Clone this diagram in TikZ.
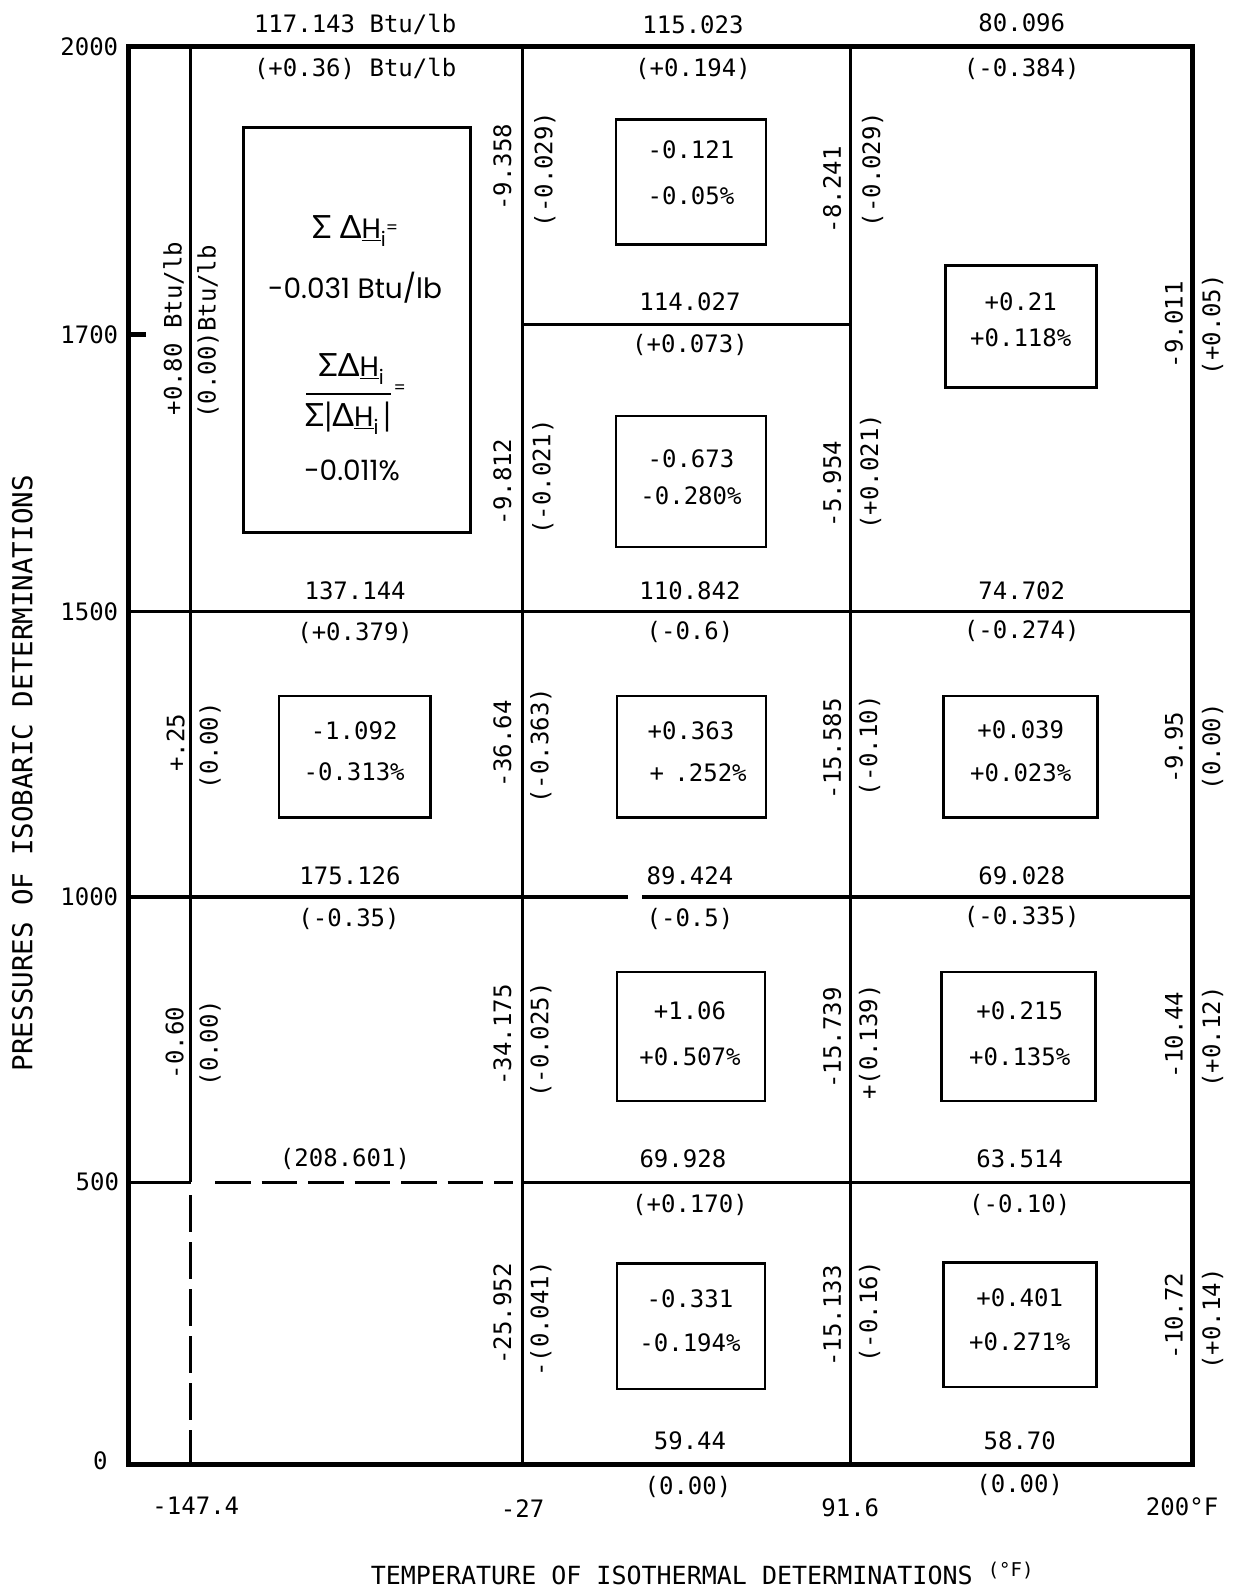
\documentclass[tikz,border=0pt]{standalone}
\usepackage{fontspec}
\setmainfont{DejaVu Sans Mono}
\newfontfamily\boxfont{Poppins}
\newfontfamily\grkfont{Lato}
\newcommand\monosz{\fontsize{24}{28}\selectfont}
\newcommand\boxsz{\fontsize{28}{32}\selectfont\boxfont}
\newcommand\grk[1]{{\fontsize{32}{34}\selectfont\grkfont #1}}
\newcommand\subi{\raisebox{-8pt}{\fontsize{20}{22}\selectfont i}}
\begin{document}
\begin{tikzpicture}[x=1.01481pt,y=-1.01481pt,
  lbl/.style={inner sep=0pt, font=\monosz},
  vlbl/.style={lbl, rotate=90},
  btxt/.style={inner sep=0pt, font=\boxsz},
  frameline/.style={line width=5pt, line cap=rect},
  gridline/.style={line width=3.1pt},
  valbox/.style={draw, line width=2.8pt},
  dashline/.style={line width=3.2pt}]
\useasboundingbox (0,0) rectangle (1215,1568);
% grid lines
\draw[gridline] (515,46) -- (515,1443);
\draw[gridline] (838,46) -- (838,1443);
\draw[gridline] (188,46) -- (188,1165);
\draw[dashline, dash pattern=on 37pt off 10pt] (188,1178) -- (188,1443);
\draw[gridline] (515,320) -- (838,320);
\draw[gridline] (127,603) -- (1175,603);
\draw[gridline] (127,884) -- (619,884);
\draw[gridline] (633,884) -- (1175,884);
\draw[gridline] (127,1165) -- (188,1165);
\draw[dashline, dash pattern=on 35.5pt off 11pt] (212,1165) -- (506,1165);
\draw[gridline] (515,1165) -- (1175,1165);
\draw[frameline] (127,330) -- (141,330);
\draw[frameline] (127,46) rectangle (1175,1443);
% value boxes
\draw[valbox] (240,126) rectangle (464,525);
\draw[valbox] (607,118) rectangle (755,241);
\draw[valbox] (607,410) rectangle (755,539);
\draw[valbox] (932,262) rectangle (1081,382);
\draw[valbox] (275,686) rectangle (424,806);
\draw[valbox] (608,686) rectangle (755,806);
\draw[valbox] (930,686) rectangle (1082,806);
\draw[valbox] (608,958) rectangle (754,1085);
\draw[valbox] (928,958) rectangle (1080,1085);
\draw[valbox] (608,1245) rectangle (754,1369);
\draw[valbox] (930,1244) rectangle (1081,1367);
% summary box text
\node[btxt] (s1) at (350,228) {\grk{Σ Δ}\underline{H}\subi\raisebox{5pt}{\fontsize{17}{18}\selectfont =}};
\node[btxt] (s2) at (350,284) {-0.031 Btu/lb};
\node[btxt] (s3) at (346,364) {\grk{ΣΔ}\underline{H}\subi};
\draw[line width=2pt] (302,388) -- (385,388);
\node[btxt, font=\fontsize{17}{18}\selectfont\boxfont] (s4) at (394,384) {=};
\node[btxt] (s5) at (343,412) {\grk{Σ|Δ}\underline{H}\subi\,\grk{|}};
\node[btxt] (s6) at (347,464) {-0.011\%};
% top labels
\node[lbl] (t1) at (350,24) {117.143 Btu/lb};
\node[lbl] (t2) at (683,24) {115.023};
\node[lbl] (t3) at (1007,22) {80.096};
\node[lbl] (t4) at (350,68) {(+0.36) Btu/lb};
\node[lbl] (t5) at (683,68) {(+0.194)};
\node[lbl] (t6) at (1007,68) {(-0.384)};
% left column verticals
\node[vlbl] (l1) at (171,324) {+0.80 Btu/lb};
\node[vlbl] (l2) at (205,327) {(0.00)Btu/lb};
\node[vlbl] (l3) at (173,732) {+.25};
\node[vlbl] (l4) at (207,735) {(0.00)};
\node[vlbl] (l5) at (172,1028) {-0.60};
\node[vlbl] (l6) at (207,1028) {(0.00)};
% -27 line
\node[vlbl] (a1) at (495,165) {-9.358};
\node[vlbl] (a2) at (537,167) {(-0.029)};
\node[vlbl] (a3) at (495,475) {-9.812};
\node[vlbl] (a4) at (535,470) {(-0.021)};
\node[vlbl] (a5) at (495,733) {-36.64};
\node[vlbl] (a6) at (533,735) {(-0.363)};
\node[vlbl] (a7) at (495,1020) {-34.175};
\node[vlbl] (a8) at (533,1025) {(-0.025)};
\node[vlbl] (a9) at (495,1295) {-25.952};
\node[vlbl] (a10) at (533,1300) {-(0.041)};
% 91.6 line
\node[vlbl] (b1) at (820,187) {-8.241};
\node[vlbl] (b2) at (860,167) {(-0.029)};
\node[vlbl] (b3) at (820,477) {-5.954};
\node[vlbl] (b4) at (858,465) {(+0.021)};
\node[vlbl] (b5) at (820,738) {-15.585};
\node[vlbl] (b6) at (857,735) {(-0.10)};
\node[vlbl] (b7) at (820,1023) {-15.739};
\node[vlbl] (b8) at (857,1027) {+(0.139)};
\node[vlbl] (b9) at (820,1297) {-15.133};
\node[vlbl] (b10) at (857,1293) {(-0.16)};
% right border
\node[vlbl] (c1) at (1157,320) {-9.011};
\node[vlbl] (c2) at (1195,320) {(+0.05)};
\node[vlbl] (c3) at (1157,737) {-9.95};
\node[vlbl] (c4) at (1195,736) {(0.00)};
\node[vlbl] (c5) at (1157,1020) {-10.44};
\node[vlbl] (c6) at (1195,1022) {(+0.12)};
\node[vlbl] (c7) at (1157,1297) {-10.72};
\node[vlbl] (c8) at (1195,1300) {(+0.14)};
% horizontal labels
\node[lbl] (h1) at (680,297) {114.027};
\node[lbl] (h2) at (680,340) {(+0.073)};
\node[lbl] (h3) at (350,582) {137.144};
\node[lbl] (h4) at (680,582) {110.842};
\node[lbl] (h5) at (1007,582) {74.702};
\node[lbl] (h6) at (350,624) {(+0.379)};
\node[lbl] (h7) at (680,623) {(-0.6)};
\node[lbl] (h8) at (1007,622) {(-0.274)};
\node[lbl] (h9) at (345,863) {175.126};
\node[lbl] (h10) at (680,863) {89.424};
\node[lbl] (h11) at (1007,863) {69.028};
\node[lbl] (h12) at (344,906) {(-0.35)};
\node[lbl] (h13) at (680,906) {(-0.5)};
\node[lbl] (h14) at (1007,904) {(-0.335)};
\node[lbl] (h15) at (340,1142) {(208.601)};
\node[lbl] (h16) at (673,1142) {69.928};
\node[lbl] (h17) at (1005,1142) {63.514};
\node[lbl] (h18) at (680,1188) {(+0.170)};
\node[lbl] (h19) at (1005,1188) {(-0.10)};
\node[lbl] (h20) at (680,1420) {59.44};
\node[lbl] (h21) at (1005,1420) {58.70};
\node[lbl] (h22) at (678,1465) {(0.00)};
\node[lbl] (h23) at (1005,1463) {(0.00)};
% box values
\node[lbl] (v1a) at (681,148) {-0.121};
\node[lbl] (v1b) at (681,193) {-0.05\%};
\node[lbl] (v2a) at (681,452) {-0.673};
\node[lbl] (v2b) at (681,489) {-0.280\%};
\node[lbl] (v3a) at (1006,297) {+0.21};
\node[lbl] (v3b) at (1006,333) {+0.118\%};
\node[lbl] (v4a) at (349,720) {-1.092};
\node[lbl] (v4b) at (349,761) {-0.313\%};
\node[lbl] (v5a) at (681,720) {+0.363};
\node[lbl] (v5b) at (688,762) {+\hspace{-4pt} .252\%};
\node[lbl] (v6a) at (1006,719) {+0.039};
\node[lbl] (v6b) at (1006,762) {+0.023\%};
\node[lbl] (v7a) at (680,996) {+1.06};
\node[lbl] (v7b) at (680,1041) {+0.507\%};
\node[lbl] (v8a) at (1005,996) {+0.215};
\node[lbl] (v8b) at (1005,1041) {+0.135\%};
\node[lbl] (v9a) at (680,1280) {-0.331};
\node[lbl] (v9b) at (680,1323) {-0.194\%};
\node[lbl] (v10a) at (1005,1279) {+0.401};
\node[lbl] (v10b) at (1005,1322) {+0.271\%};
% axis ticks
\node[lbl] (y1) at (88,46) {2000};
\node[lbl] (y2) at (88,330) {1700};
\node[lbl] (y3) at (88,603) {1500};
\node[lbl] (y4) at (88,884) {1000};
\node[lbl] (y5) at (96,1165) {500};
\node[lbl] (y6) at (99,1440) {0};
\node[lbl] (x1) at (193,1484) {-147.4};
\node[lbl] (x2) at (515,1487) {-27};
\node[lbl] (x3) at (838,1486) {91.6};
\node[lbl] (x4) at (1165,1485) {200°F};
% axis titles
\node[vlbl, font=\fontsize{27.5}{30}\selectfont] (ytitle) at (22,762) {PRESSURES OF ISOBARIC DETERMINATIONS};
\node[lbl, font=\fontsize{25}{30}\selectfont, anchor=base] (xtitle) at (692,1562) {TEMPERATURE OF ISOTHERMAL DETERMINATIONS \raisebox{8pt}{\fontsize{19}{20}\selectfont(°F)}};
\end{tikzpicture}
\end{document}
